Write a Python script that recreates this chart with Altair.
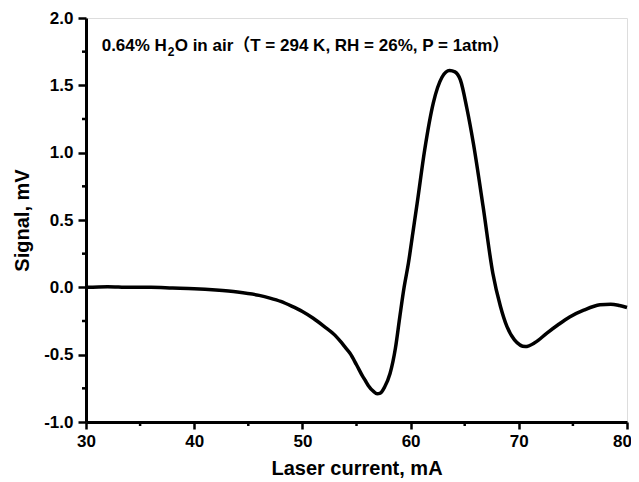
import altair as alt
import pandas as pd

# ---- data ----
current_mA = [30, 32, 34, 36, 38, 40, 42, 44, 46, 47, 48, 49, 50, 51, 52, 53, 53.5,
              54, 54.4, 55, 55.6, 55.8, 56.1, 56.6, 56.9, 57.2, 57.6, 58.1, 58.6, 59.0,
              59.4, 59.8, 60.2, 60.6, 61.3, 62.1, 62.9, 63.6, 64.1, 64.6, 65.2, 65.8,
              66.7, 67.6, 68.3, 68.9, 69.6, 70.6, 71.5, 72.6, 73.6, 74.7, 76, 77.5,
              78.5, 79.3, 80]
signal_mV = [0.0, 0.005, 0.0, 0.0, -0.005, -0.01, -0.02, -0.035, -0.06, -0.08, -0.105,
             -0.14, -0.18, -0.23, -0.29, -0.355, -0.40, -0.45, -0.49, -0.575, -0.665,
             -0.69, -0.73, -0.775, -0.79, -0.785, -0.74, -0.64, -0.45, -0.22, 0.0, 0.18,
             0.40, 0.62, 1.02, 1.37, 1.56, 1.61, 1.60, 1.54, 1.33, 1.07, 0.60, 0.105,
             -0.14, -0.29, -0.39, -0.44, -0.41, -0.34, -0.28, -0.22, -0.17, -0.13,
             -0.125, -0.135, -0.15]

x_major_ticks = [30, 40, 50, 60, 70, 80]
x_minor_ticks = [35, 45, 55, 65, 75]
y_major_ticks = [-1.0, -0.5, 0.0, 0.5, 1.0, 1.5, 2.0]
y_minor_ticks = [-0.75, -0.25, 0.25, 0.75, 1.25, 1.75]

x_title = "Laser current, mA"
y_title = "Signal, mV"

note_parts = ["0.64% H", "2", "O in air\uff08T = 294 K, RH = 26%, P = 1atm\uff09"]
note_x = [31.45, 31.45, 31.45]
note_y = [1.757, 1.757, 1.757]

FONT = "Liberation Sans, Arial, Helvetica, sans-serif"
NOTE_FONT = "Liberation Sans, Arial, 'Noto Sans CJK SC', sans-serif"

df = pd.DataFrame({"current": current_mA, "signal": signal_mV})

x_scale = alt.Scale(domain=[30, 80], nice=False, zero=False)
y_scale = alt.Scale(domain=[-1.0, 2.0], nice=False, zero=False)

x_axis = alt.Axis(
    values=x_major_ticks,
    title=x_title,
    format="d",
    tickSize=7,
    grid=False,
    domainWidth=3, domainColor="black",
    tickWidth=2.5, tickColor="black",
    labelFont=FONT, labelFontSize=17, labelFontWeight="bold", labelColor="black",
    labelPadding=4, labelFlush=False, labelOverlap=False,
    labelOffset={"condition": {"test": "datum.value >= 80", "value": -5}, "value": 0},
    titleFont=FONT, titleFontSize=20, titleFontWeight="bold", titleColor="black",
    titlePadding=9,
)

y_axis = alt.Axis(
    values=y_major_ticks,
    title=y_title,
    labelExpr="replace(format(datum.value, '.1f'), '\u2212', '-')",
    tickSize=8,
    grid=False,
    domainWidth=3, domainColor="black",
    tickWidth=2.5, tickColor="black",
    labelFont=FONT, labelFontSize=17, labelFontWeight="bold", labelColor="black",
    labelPadding=5, labelFlush=False, labelOverlap=False,
    titleFont=FONT, titleFontSize=20, titleFontWeight="bold", titleColor="black",
    titlePadding=11,
)

line = alt.Chart(df).mark_line(
    color="black", strokeWidth=3.5, interpolate="monotone"
).encode(
    x=alt.X("current:Q", scale=x_scale, axis=x_axis),
    y=alt.Y("signal:Q", scale=y_scale, axis=y_axis),
)

# minor ticks (outward), positioned through the shared scales
xminor = alt.Chart(pd.DataFrame({"v": x_minor_ticks})).mark_rule(
    color="black", strokeWidth=2.5
).encode(
    x=alt.X("v:Q", scale=x_scale),
    y=alt.value(404), y2=alt.value(408),
)
yminor = alt.Chart(pd.DataFrame({"v": y_minor_ticks})).mark_rule(
    color="black", strokeWidth=2.5
).encode(
    y=alt.Y("v:Q", scale=y_scale),
    x=alt.value(-4), x2=alt.value(0),
)

note_df = pd.DataFrame({"text": note_parts, "x": note_x, "y": note_y,
                        "part": [0, 1, 2]})

def note_layer(i, dx, dy, size):
    return alt.Chart(note_df).transform_filter(
        alt.datum.part == i
    ).mark_text(
        align="left", baseline="alphabetic", dx=dx, dy=dy,
        font=NOTE_FONT, fontSize=size, fontWeight="bold", color="black",
    ).encode(
        x=alt.X("x:Q", scale=x_scale),
        y=alt.Y("y:Q", scale=y_scale),
        text="text:N",
    )

notes = note_layer(0, 0, 0, 17) + note_layer(1, 66, 5, 12) + note_layer(2, 73, 0, 17)

chart = alt.layer(line, xminor, yminor, notes).properties(
    width=541,
    height=404,
    autosize=alt.AutoSizeParams(type="none"),
    padding={"left": 78, "top": 10, "right": 4, "bottom": 56},
).configure_view(
    stroke="black", strokeWidth=1
).configure(background="white")

chart.save("out.html", embed_options={"renderer": "svg", "actions": False})
